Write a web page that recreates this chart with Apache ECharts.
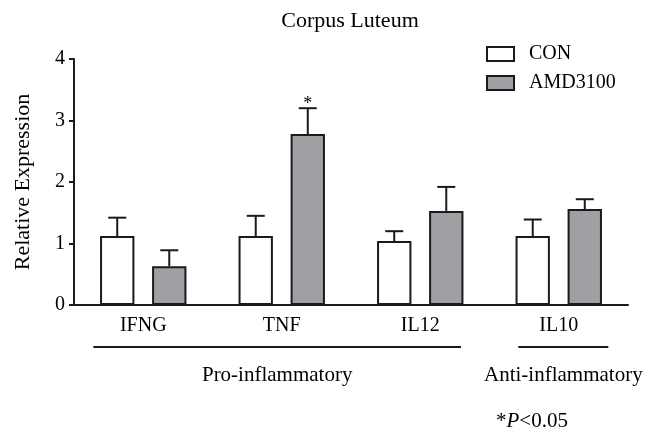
<!DOCTYPE html>
<html>
<head>
<meta charset="utf-8">
<script src="https://cdn.jsdelivr.net/npm/echarts@6/dist/echarts.min.js"></script>
<style>
html,body{margin:0;padding:0;background:#fff;}
#chart{width:656px;height:440px;}
</style>
</head>
<body>
<div id="chart"></div>
<script>
// ---- data ----
const categories = ['IFNG', 'TNF', 'IL12', 'IL10'];
const conMean = [1.12, 1.12, 1.04, 1.12];
const conUpper = [1.42, 1.45, 1.20, 1.39];
const amdMean = [0.63, 2.78, 1.53, 1.56];
const amdUpper = [0.89, 3.20, 1.92, 1.72];
const amdSig = ['', '*', '', ''];
const yMin = 0, yMax = 4, yStep = 1;
const groupNames = ['Pro-inflammatory', 'Anti-inflammatory'];
const groupFirst = [0, 3];
const groupLast = [2, 3];

// ---- style ----
const FONT = 'Liberation Serif, Times New Roman, serif';
const INK = '#1a1a1a';
const BAR_W = 0.248;   // fraction of band
const BAR_GAP = 0.515; // fraction of bar width
const groupPad = [[0.36, 0.294], [0.292, 0.358]];

function errRender(sign, sig) {
  return function (params, api) {
    const x = api.value(0), v = api.value(1), e = api.value(2);
    const band = api.size([1, 0])[0];
    const off = sign * band * BAR_W * (1 + BAR_GAP) / 2;
    const p0 = api.coord([x, v]);
    const p1 = api.coord([x, e]);
    const cx = p0[0] + off;
    const cap = 9;
    const children = [
      {type: 'line', shape: {x1: cx, y1: p0[1], x2: cx, y2: p1[1]}, style: {stroke: INK, lineWidth: 2}},
      {type: 'line', shape: {x1: cx - cap, y1: p1[1], x2: cx + cap, y2: p1[1]}, style: {stroke: INK, lineWidth: 2}}
    ];
    if (sig && sig[params.dataIndex]) {
      children.push({type: 'text', x: cx, y: p1[1] - 4,
        style: {text: sig[params.dataIndex], fontFamily: FONT, fontSize: 18, fill: '#000', align: 'center', verticalAlign: 'middle'}});
    }
    return {type: 'group', children: children};
  };
}

const chart = echarts.init(document.getElementById('chart'), null, {renderer: 'canvas'});
chart.setOption({
  animation: false,
  backgroundColor: '#fff',
  textStyle: {fontFamily: FONT, color: '#000'},
  title: {
    text: 'Corpus Luteum', left: 345, top: 5, textAlign: 'center',
    textStyle: {fontFamily: FONT, fontSize: 22, fontWeight: 'normal', color: '#000'}
  },
  legend: {
    data: ['CON', 'AMD3100'], orient: 'vertical', left: 486, top: 44,
    icon: 'rect',
    itemWidth: 27, itemHeight: 14, itemGap: 9, padding: 0,
    textStyle: {fontFamily: FONT, fontSize: 20, color: '#000', padding: [0, 0, 0, 10]}
  },
  grid: {left: 74, right: 28, top: 59, bottom: 135, containLabel: false},
  xAxis: {
    type: 'category', data: categories, boundaryGap: true,
    axisLine: {lineStyle: {color: INK, width: 2}},
    axisTick: {alignWithLabel: true, length: 6, lineStyle: {color: INK, width: 2}},
    axisLabel: {fontFamily: FONT, fontSize: 20, color: '#000', margin: 11}
  },
  yAxis: {
    type: 'value', min: yMin, max: yMax, interval: yStep,
    name: 'Relative Expression', nameLocation: 'middle', nameGap: 40,
    nameTextStyle: {fontFamily: FONT, fontSize: 22, color: '#000'},
    axisLine: {show: true, lineStyle: {color: INK, width: 2}},
    axisTick: {show: true, length: 5, lineStyle: {color: INK, width: 2}},
    axisLabel: {fontFamily: FONT, fontSize: 20, color: '#000', margin: 9},
    splitLine: {show: false}
  },
  series: [
    {
      name: 'CON', type: 'bar', data: conMean, barWidth: (BAR_W * 100) + '%', barGap: (BAR_GAP * 100) + '%',
      itemStyle: {color: '#ffffff', borderColor: INK, borderWidth: 2}
    },
    {
      name: 'AMD3100', type: 'bar', data: amdMean, barWidth: (BAR_W * 100) + '%',
      itemStyle: {color: '#a0a0a4', borderColor: INK, borderWidth: 2}
    },
    {
      type: 'custom', renderItem: errRender(-1, null), z: 3,
      encode: {x: 0, y: 2},
      data: conMean.map((v, i) => [i, v, conUpper[i]])
    },
    {
      type: 'custom', renderItem: errRender(1, amdSig), z: 3,
      encode: {x: 0, y: 2},
      data: amdMean.map((v, i) => [i, v, amdUpper[i]])
    },
    {
      type: 'custom', clip: false, silent: true, z: 3,
      renderItem: function (params, api) {
        const i = params.dataIndex;
        const a = api.value(0), b = api.value(1);
        const band = api.size([1, 0])[0];
        const pa = api.coord([a, 0]);
        const pb = api.coord([b, 0]);
        const x1 = pa[0] - groupPad[i][0] * band;
        const x2 = pb[0] + groupPad[i][1] * band;
        const y = pa[1] + 42;
        return {type: 'group', children: [
          {type: 'line', shape: {x1: x1, y1: y, x2: x2, y2: y}, style: {stroke: INK, lineWidth: 2}},
          {type: 'text', x: (x1 + x2) / 2, y: y + 28,
            style: {text: groupNames[i], fontFamily: FONT, fontSize: 21, fill: '#000', align: 'center', verticalAlign: 'middle'}}
        ]};
      },
      encode: {x: 0, y: 2},
      data: groupFirst.map((f, i) => [f, groupLast[i], 0])
    }
  ],
  graphic: [{
    type: 'text', left: 496, top: 411,
    style: {
      text: '{n|*}{i|P}{n|<0.05}',
      rich: {
        n: {fontFamily: FONT, fontSize: 21, fill: '#000'},
        i: {fontFamily: FONT, fontSize: 21, fontStyle: 'italic', fill: '#000'}
      }
    }
  }]
});
</script>
</body>
</html>
